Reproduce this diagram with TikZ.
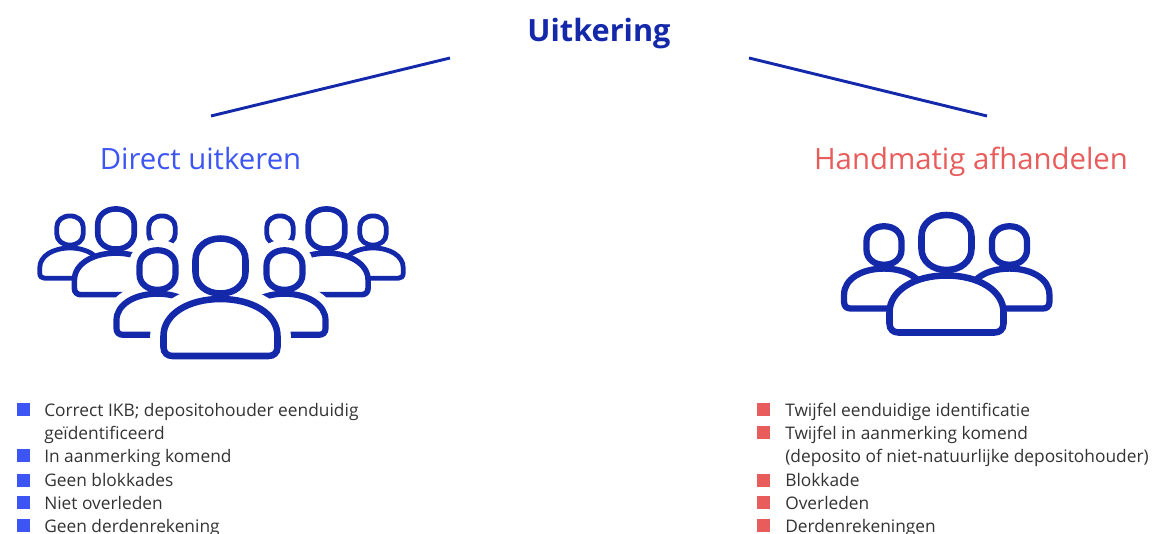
\documentclass[tikz,border=0pt]{standalone}
\usepackage{fontspec}
\setmainfont{Open Sans}
\definecolor{ingnavy}{HTML}{1428AA}
\definecolor{ingblue}{HTML}{3D55F5}
\definecolor{ingred}{HTML}{E85C5C}
\definecolor{ingtext}{HTML}{333333}
\def\headpath{(-25,-6) .. controls (-25,-19) and (-14,-27.5) .. (0,-27.5) .. controls (14,-27.5) and (25,-19) .. (25,-6) -- (25,6) .. controls (25,19) and (14,27.5) .. (0,27.5) .. controls (-14,27.5) and (-25,19) .. (-25,6) -- cycle}
\def\bodypath{(-57,70) .. controls (-57,48) and (-32,33) .. (0,33) .. controls (32,33) and (57,48) .. (57,70) -- (57,81) .. controls (57,87) and (53,90) .. (48,90) -- (-48,90) .. controls (-53,90) and (-57,87) .. (-57,81) -- cycle}
\tikzset{
    pics/person/.style 2 args={
        code={
            \path [draw=white, line width=#2] \bodypath;
            \path [draw=white, line width=#2] \headpath;
            \path [draw=ingnavy, fill=white, line width=#1] \bodypath;
            \path [draw=ingnavy, fill=white, line width=#1] \headpath;
        }
    },
    pics/headonly/.style={
        code={
            \path [draw=ingnavy, fill=white, line width=#1] \headpath;
        }
    },
}
\begin{document}
\begin{tikzpicture}[
    x=.75pt,
    y=-.75pt,
    title/.style={
        anchor=base,
        font=\fontsize{23}{28}\selectfont\bfseries,
        text=ingnavy,
        },
    subtitle/.style={
        anchor=base,
        font=\fontsize{22}{26}\selectfont,
        },
    item/.style={
        anchor=base west,
        inner sep=0pt,
        text=ingtext,
        font=\fontsize{13}{15}\selectfont,
        },
    bulletbase/.style={
        rectangle,
        inner sep=0pt,
        minimum size=9.75pt,
        },
    bulletblue/.style={
        bulletbase,
        fill=ingblue,
        },
    bulletred/.style={
        bulletbase,
        fill=ingred,
        },
    branch/.style={
        draw=ingnavy,
        line width=2.2pt,
        },
    ]

    \useasboundingbox (0,0) rectangle (1154,534);

    \node [title] (uitkering) at (599,42) {Uitkering};
    \node [subtitle, text=ingblue] (direct) at (200.5,170) {Direct uitkeren};
    \node [subtitle, text=ingred] (handmatig) at (971,170) {Handmatig afhandelen};

    \coordinate (bl1) at (450,58);
    \coordinate (bl2) at (211,116);
    \coordinate (br1) at (749,58);
    \coordinate (br2) at (987,116);

    \draw [branch] (bl1) -- (bl2);
    \draw [branch] (br1) -- (br2);

    % crowd on the left, back to front
    \pic [scale=.53] at (70,230.5) {person={3.6pt}{0pt}};
    \pic [scale=.53] at (373,230.5) {person={3.6pt}{0pt}};
    \pic [scale=.73] at (116,229) {person={4.2pt}{0pt}};
    \pic [scale=.73] at (326.5,229) {person={4.2pt}{0pt}};
    \pic [scale=.53] at (162,230.5) {headonly={3.6pt}};
    \pic [scale=.53] at (280,230.5) {headonly={3.6pt}};
    \pic [scale=.72] at (157.5,270) {person={4.6pt}{16pt}};
    \pic [scale=.72] at (284.5,270) {person={4.6pt}{16pt}};
    \pic at (220.5,266) {person={4.9pt}{20pt}};

    % group on the right
    \pic [scale=.70] at (884,245.5) {person={4.7pt}{0pt}};
    \pic [scale=.70] at (1009.5,245.5) {person={4.7pt}{0pt}};
    \pic at (946.5,242.5) {person={4.9pt}{0pt}};

    \node [bulletblue] (bulleta1) at (23.5,409.5) {};
    \node [bulletblue] (bulleta2) at (23.5,455.5) {};
    \node [bulletblue] (bulleta3) at (23.5,480.5) {};
    \node [bulletblue] (bulleta4) at (23.5,502.5) {};
    \node [bulletblue] (bulleta5) at (23.5,525.5) {};

    \node [item] (itema1) at (44,417) {Correct IKB; depositohouder eenduidig};
    \node [item] (itema1b) at (44,440) {geïdentificeerd};
    \node [item] (itema2) at (44,463) {In aanmerking komend};
    \node [item] (itema3) at (44,487) {Geen blokkades};
    \node [item] (itema4) at (44,510) {Niet overleden};
    \node [item] (itema5) at (44,533) {Geen derdenrekening};

    \node [bulletred] (bulletb1) at (763.5,409.5) {};
    \node [bulletred] (bulletb2) at (763.5,432.5) {};
    \node [bulletred] (bulletb3) at (763.5,480.5) {};
    \node [bulletred] (bulletb4) at (763.5,502.5) {};
    \node [bulletred] (bulletb5) at (763.5,525.5) {};

    \node [item] (itemb1) at (785,417) {Twijfel eenduidige identificatie};
    \node [item] (itemb2) at (785,440) {Twijfel in aanmerking komend};
    \node [item] (itemb2b) at (785,463) {(deposito of niet-natuurlijke depositohouder)};
    \node [item] (itemb3) at (785,487) {Blokkade};
    \node [item] (itemb4) at (785,510) {Overleden};
    \node [item] (itemb5) at (785,533) {Derdenrekeningen};

\end{tikzpicture}
\end{document}
